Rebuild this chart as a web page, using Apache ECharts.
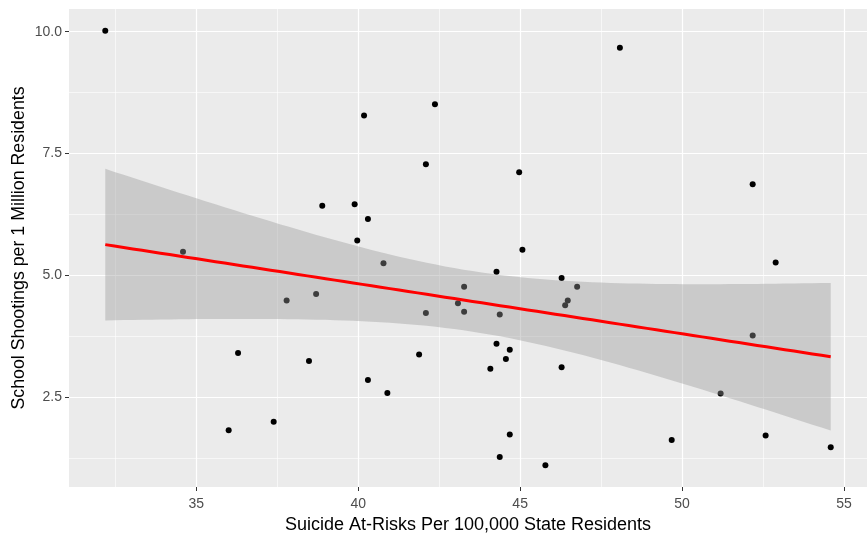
<!DOCTYPE html>
<html>
<head>
<meta charset="utf-8">
<script src="https://cdn.jsdelivr.net/npm/echarts@6/dist/echarts.min.js"></script>
<style>html,body{margin:0;padding:0;background:#fff}#c{width:867px;height:533px}</style>
</head>
<body>
<div id="c"></div>
<script>
// Suicide at-risks per 100,000 state residents (x)
const suicideRates = [32.19,34.59,36.00,36.29,37.39,37.79,38.48,38.70,38.89,39.89,39.97,40.18,40.30,40.30,40.78,40.90,41.88,42.09,42.09,42.37,43.08,43.27,43.27,44.08,44.27,44.27,44.37,44.37,44.56,44.68,44.68,44.97,45.07,45.78,46.28,46.28,46.39,46.47,46.76,48.08,49.68,51.19,52.18,52.18,52.58,52.89,54.59];
// School shootings per 1 million residents (y)
const shootings = [10.02,5.49,1.83,3.41,2.00,4.49,3.25,4.62,6.43,6.46,5.72,8.28,6.16,2.86,5.25,2.59,3.38,7.28,4.23,8.51,4.43,4.77,4.26,3.09,5.08,3.60,4.20,1.28,3.29,3.48,1.74,7.12,5.53,1.11,4.95,3.12,4.39,4.49,4.77,9.67,1.63,2.58,6.87,3.77,1.72,5.27,1.48];
const xTicks = [35,40,45,50,55];
const xMinor = [32.5,37.5,42.5,47.5,52.5];
const yTicks = [2.5,5.0,7.5,10.0];
const yMinor = [1.25,3.75,6.25,8.75];
const xLabel = 'Suicide At-Risks Per 100,000 State Residents';
const yLabel = 'School Shootings per 1 Million Residents';

// ---- linear model (lm) with 95% confidence band, as geom_smooth(method="lm") ----
const n = suicideRates.length;
const xbar = suicideRates.reduce((a,b)=>a+b,0)/n;
const ybar = shootings.reduce((a,b)=>a+b,0)/n;
let sxx=0, sxy=0;
for (let i=0;i<n;i++){ sxx += (suicideRates[i]-xbar)**2; sxy += (suicideRates[i]-xbar)*(shootings[i]-ybar); }
const slope = sxy/sxx, intercept = ybar - slope*xbar;
let sse=0;
for (let i=0;i<n;i++){ sse += (shootings[i]-intercept-slope*suicideRates[i])**2; }
const s = Math.sqrt(sse/(n-2));
const tq = 2.0141; // qt(0.975, 45)
const xMin = Math.min(...suicideRates), xMax = Math.max(...suicideRates);
const fitPts=[], bandUpper=[], bandLower=[];
for (let k=0;k<80;k++){
  const x = xMin + (xMax-xMin)*k/79;
  const f = intercept + slope*x;
  const se = s*Math.sqrt(1/n + (x-xbar)**2/sxx);
  fitPts.push([x,f]); bandUpper.push([x,f+tq*se]); bandLower.push([x,f-tq*se]);
}
// axis extents with ggplot's 5% expansion
const yMin = Math.min(...shootings), yMax = Math.max(...shootings);
const xr = xMax-xMin, yr = yMax-yMin;

const gridLines = [];
xTicks.forEach(v=>gridLines.push({xAxis:v, lineStyle:{width:1.2}}));
xMinor.forEach(v=>gridLines.push({xAxis:v, lineStyle:{width:0.6}}));
yTicks.forEach(v=>gridLines.push({yAxis:v, lineStyle:{width:1.2}}));
yMinor.forEach(v=>gridLines.push({yAxis:v, lineStyle:{width:0.6}}));

const font = '"Liberation Sans", Arial, sans-serif';
const chart = echarts.init(document.getElementById('c'), null, {renderer:'canvas'});
chart.setOption({
  animation:false,
  textStyle:{fontFamily:font},
  grid:{left:69, right:0, top:9, bottom:46, show:true, backgroundColor:'#EBEBEB', borderWidth:0,
        containLabel:false, outerBoundsMode:'none'},
  xAxis:{
    type:'value', min:xMin-0.05*xr, max:xMax+0.05*xr,
    name:xLabel, nameLocation:'middle', nameGap:27,
    nameTextStyle:{color:'#000', fontSize:18, fontFamily:font},
    axisLine:{show:false},
    axisTick:{show:true, length:4, lineStyle:{color:'#333', width:1}, customValues:xTicks},
    axisLabel:{color:'#4D4D4D', fontSize:14, margin:10, fontFamily:font, customValues:xTicks},
    splitLine:{show:false}
  },
  yAxis:{
    type:'value', min:yMin-0.05*yr, max:yMax+0.05*yr,
    name:yLabel, nameLocation:'middle', nameGap:41, nameRotate:90, nameMoveOverlap:false,
    nameTextStyle:{color:'#000', fontSize:17.8, fontFamily:font},
    axisLine:{show:false},
    axisTick:{show:true, length:4, lineStyle:{color:'#333', width:1}, customValues:yTicks},
    axisLabel:{color:'#4D4D4D', fontSize:14, margin:7, fontFamily:font, customValues:yTicks,
      formatter:v=>Number(v).toFixed(1)},
    splitLine:{show:false}
  },
  series:[
    {type:'line', data:[], z:1, silent:true,
     markLine:{silent:true, z:1, symbol:['none','none'], label:{show:false}, animation:false,
       lineStyle:{color:'#FFFFFF', type:'solid'}, data:gridLines}},
    {type:'scatter', data:suicideRates.map((x,i)=>[x,shootings[i]]), symbolSize:6,
     itemStyle:{color:'#000', opacity:1}, z:2, silent:true},
    {type:'custom', z:3, silent:true, data:[[fitPts[0][0], fitPts[0][1]]],
     renderItem:function(params, api){
       const pts = bandUpper.map(p=>api.coord(p)).concat(bandLower.slice().reverse().map(p=>api.coord(p)));
       return {type:'polygon', shape:{points:pts}, style:{fill:'rgba(153,153,153,0.4)', stroke:null}};
     }},
    {type:'line', data:fitPts, showSymbol:false, z:4, silent:true,
     lineStyle:{color:'#FF0000', width:3}}
  ]
});
</script>
</body>
</html>
